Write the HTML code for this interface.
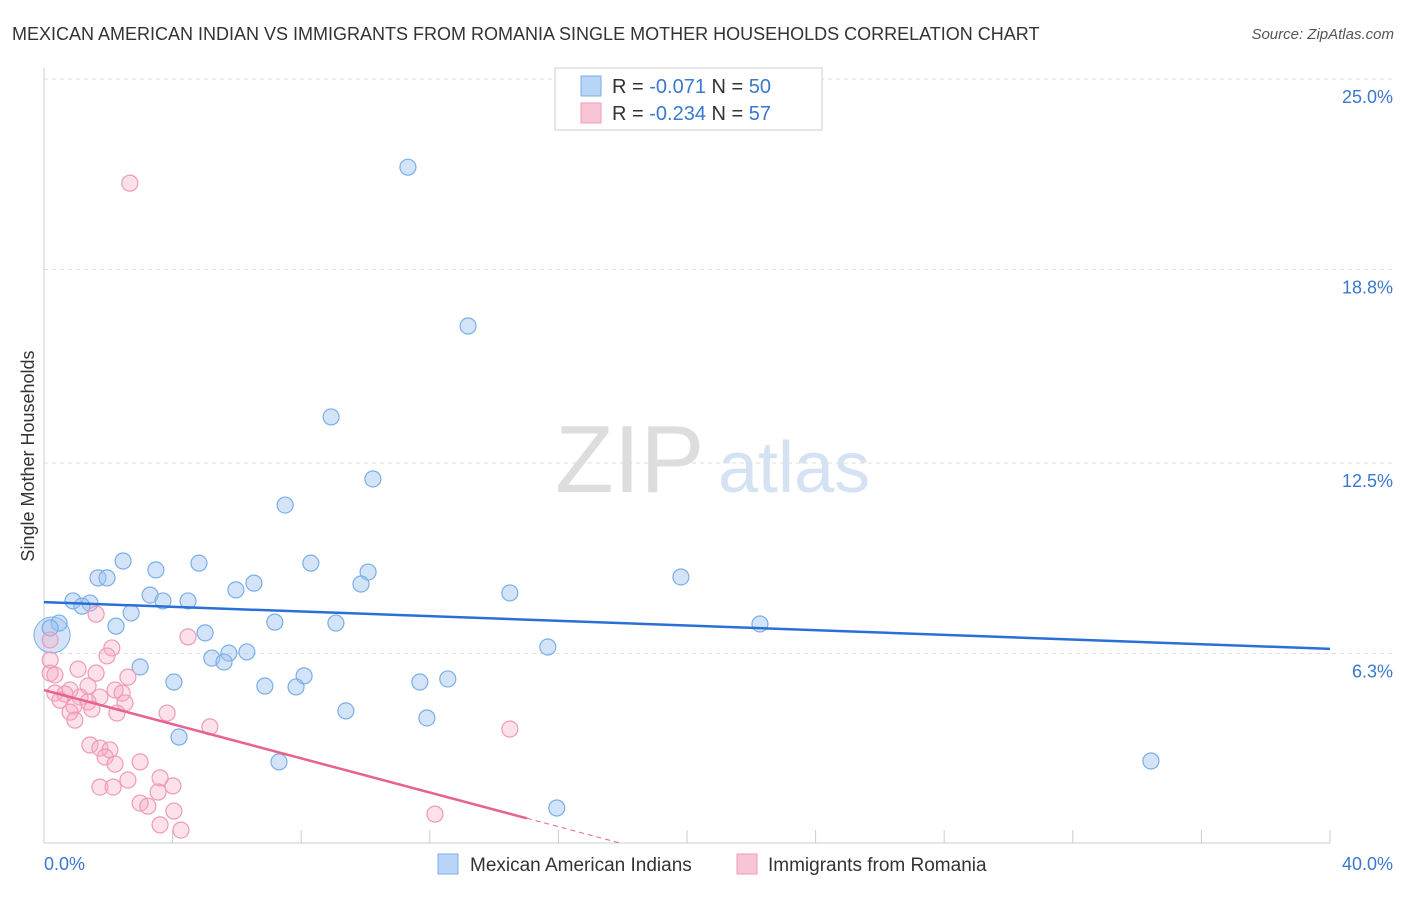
<!DOCTYPE html>
<html><head><meta charset="utf-8"><style>
body{margin:0;background:#fff;font-family:"Liberation Sans",sans-serif}
svg text{font-family:"Liberation Sans",sans-serif}
</style></head><body>
<svg id="c" width="1406" height="892">
<text x="12" y="40" font-size="18" fill="#333">MEXICAN AMERICAN INDIAN VS IMMIGRANTS FROM ROMANIA SINGLE MOTHER HOUSEHOLDS CORRELATION CHART</text>
<text x="1394" y="39" font-size="15" fill="#555" font-style="italic" text-anchor="end">Source: ZipAtlas.com</text>
<text x="34" y="456" font-size="18" fill="#333" text-anchor="middle" transform="rotate(-90 34 456)">Single Mother Households</text>
<text x="555" y="492" font-size="96" fill="#ddd" font-family="Liberation Serif">ZIP</text>
<text x="718" y="492" font-size="72" fill="#d4e2f4">atlas</text>
<g id="grid"></g><g id="pts"></g><g id="lines"></g>
<g>
<rect x="555" y="68" width="267" height="62" fill="#fff" stroke="#ccc"/>
<rect x="581" y="76" width="20" height="20" fill="#b8d4f6" stroke="#7aaee8"/>
<rect x="581" y="103" width="20" height="20" fill="#f9c5d6" stroke="#ef9ab8"/>
<text x="612" y="93" font-size="20" fill="#333">R = <tspan fill="#3a78d0">-0.071</tspan>   N = <tspan fill="#3a78d0">50</tspan></text>
<text x="612" y="120" font-size="20" fill="#333">R = <tspan fill="#3a78d0">-0.234</tspan>   N = <tspan fill="#3a78d0">57</tspan></text>
</g>
<g>
<rect x="438" y="854" width="20" height="20" fill="#b8d4f6" stroke="#7aaee8"/>
<text x="470" y="871" font-size="19" fill="#333">Mexican American Indians</text>
<rect x="737" y="854" width="20" height="20" fill="#f9c5d6" stroke="#ef9ab8"/>
<text x="768" y="871" font-size="19" fill="#333">Immigrants from Romania</text>
</g>
</svg>
<script>
const yTicks=[25.0,18.8,12.5,6.3];
const yTickLabels=["25.0%","18.8%","12.5%","6.3%"];
const xTickCount=10;
const xLabels=["0.0%","40.0%"];
const blueX=[11.32,13.19,8.93,10.23,7.50,2.46,4.82,8.30,3.48,10.08,1.68,1.96,19.81,6.53,9.86,5.97,14.49,3.30,0.90,1.43,1.18,3.70,4.48,2.71,2.24,7.18,9.08,22.27,0.47,0.19,5.01,15.67,6.31,5.75,5.22,5.60,2.99,8.09,4.04,6.87,7.84,11.69,12.56,9.39,11.91,4.20,7.31,34.43,15.95];
const blueY=[22.13,16.96,14.00,11.98,11.13,9.31,9.24,9.24,9.02,8.95,8.76,8.76,8.79,8.59,8.56,8.37,8.27,8.20,8.01,7.94,7.84,8.01,8.01,7.62,7.19,7.32,7.29,7.26,7.29,7.13,6.97,6.51,6.35,6.31,6.15,6.02,5.86,5.57,5.37,5.24,5.21,5.37,5.47,4.43,4.20,3.58,2.77,2.80,1.27];
const pinkX=[2.67,1.62,4.48,2.11,1.96,0.19,1.06,1.62,2.61,0.19,0.34,1.37,0.81,2.21,0.34,0.65,2.43,1.12,1.74,0.50,1.37,2.52,0.93,1.49,0.81,2.27,3.83,0.96,5.16,14.49,1.43,1.74,2.05,1.90,2.99,2.21,2.61,3.61,1.74,2.15,3.55,4.01,2.99,3.23,4.04,3.61,4.26,12.16,0.19];
const pinkY=[21.61,7.58,6.84,6.48,6.22,6.09,5.79,5.66,5.53,5.66,5.60,5.24,5.11,5.11,5.01,4.98,5.01,4.88,4.88,4.78,4.72,4.69,4.59,4.49,4.39,4.36,4.36,4.13,3.91,3.84,3.32,3.22,3.16,2.93,2.77,2.70,2.18,2.25,1.95,1.95,1.79,1.99,1.43,1.33,1.17,0.72,0.55,1.07,6.74];
const blueLine=[7.97,6.45];
const pinkLine=[5.11,-0.278];
const X0=44,X1=1330,Y0=847;
const sx=v=>X0+(X1-X0)*v/40, sy=v=>Y0-v*30.72;
const NS="http://www.w3.org/2000/svg";
function mk(p,t,a){const e=document.createElementNS(NS,t);for(const k in a)e.setAttribute(k,a[k]);p.appendChild(e);return e;}
const g=document.getElementById('grid');
yTicks.forEach((v,i)=>{
 const l=mk(g,'line',{x1:X0,x2:1394,y1:sy(v),y2:sy(v),stroke:'#ddd','stroke-dasharray':'4,4'});
 
 
 const t=mk(g,'text',{x:1393,y:sy(v)+24,'font-size':18,fill:'#3a78d0','text-anchor':'end'});t.textContent=yTickLabels[i];
 
 
});
const ax=mk(g,'line',{x1:X0,x2:X1,y1:843,y2:843,stroke:'#ccc'});


const ay=mk(g,'line',{x1:X0,x2:X0,y1:68,y2:843,stroke:'#ccc'});


for(let i=0;i<=xTickCount;i++){const x=sx(i*40/xTickCount);const t=mk(g,'line',{x1:x,x2:x,y1:830,y2:843,stroke:'#ccc'});
 
 }
const l0=mk(g,'text',{x:44,y:870,'font-size':18,fill:'#3a78d0'});l0.textContent=xLabels[0];


const l1=mk(g,'text',{x:1393,y:870,'font-size':18,fill:'#3a78d0','text-anchor':'end'});l1.textContent=xLabels[1];


const p=document.getElementById('pts');
const big=mk(p,'circle',{cx:sx(0.25),cy:sy(6.9),r:18,fill:'rgba(160,195,240,0.45)',stroke:'#7aaee8'});


blueX.forEach((v,i)=>{const c=mk(p,'circle',{cx:sx(v),cy:sy(blueY[i]),r:8,fill:'rgba(160,195,240,0.45)',stroke:'#7aaee8','stroke-width':1.2});
 
 });
pinkX.forEach((v,i)=>{const c=mk(p,'circle',{cx:sx(v),cy:sy(pinkY[i]),r:8,fill:'rgba(245,170,195,0.35)',stroke:'#ef9ab8','stroke-width':1.2});
 
 });
const L=document.getElementById('lines');
const bl=mk(L,'line',{x1:sx(0),y1:sy(blueLine[0]),x2:sx(40),y2:sy(blueLine[1]),stroke:'#2a6fd6','stroke-width':2.5});


const pe=15.02,pd=17.9;
const pl=mk(L,'line',{x1:sx(0),y1:sy(pinkLine[0]),x2:sx(pe),y2:sy(pinkLine[0]+pinkLine[1]*pe),stroke:'#e8628e','stroke-width':2.5});


const pdl=mk(L,'line',{x1:sx(pe),y1:sy(pinkLine[0]+pinkLine[1]*pe),x2:sx(pd),y2:sy(pinkLine[0]+pinkLine[1]*pd),stroke:'#e8628e','stroke-width':1,'stroke-dasharray':'5,4'});


</script>
</body></html>
